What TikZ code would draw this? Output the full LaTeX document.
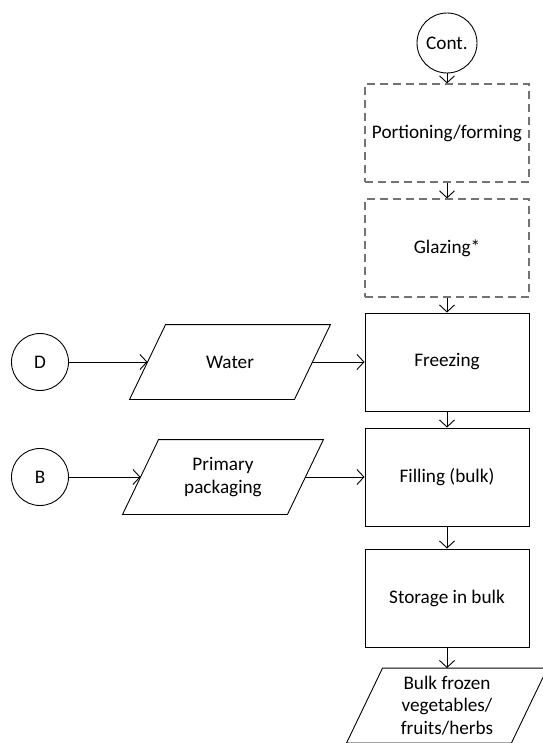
\documentclass[tikz,border=0pt]{standalone}
\usepackage{fontspec}
\setmainfont{Carlito}
\usetikzlibrary{positioning, arrows.meta}

\begin{document}
\begin{tikzpicture}[x=1pt, y=1pt, on grid, line width=0.9pt,
    >={Straight Barb[length=7pt, width=15pt]},
    font=\fontsize{19.2}{22.5}\selectfont,
    every node/.style={inner sep=0pt, align=center},
    conn/.style={draw, circle, minimum size=60pt},
    stepbox/.style={draw, rectangle, minimum width=164pt, minimum height=98pt},
    optbox/.style={stepbox, draw=black!55, dash pattern=on 8pt off 5pt, line width=1.2pt},
    io/.style={rectangle, minimum width=164pt, minimum height=74pt}]
    \useasboundingbox (0,0) rectangle (542,-743);

    % main column
    \node[conn] (cont) at (447,-43) {Cont.};
    \node[optbox] (port) [below=90pt of cont] {Portioning/forming};
    \node[optbox] (glaz) [below=115pt of port] {Glazing*};
    \node[stepbox] (freez) [below=114pt of glaz] {Freezing};
    \node[stepbox] (fill) [below=115pt of freez] {Filling (bulk)};
    \node[stepbox] (store) [below=121pt of fill] {Storage in bulk};
    \node[io] (bulk) [below=107.5pt of store] {Bulk frozen\\vegetables/\\fruits/herbs};

    % inputs
    \node[io] (water) [left=217pt of freez] {Water};
    \node[conn, minimum size=57pt] (d) [left=190pt of water] {D};
    \node[io] (pack) [left=224pt of fill] {Primary\\packaging};
    \node[conn, minimum size=57pt] (b) [left=183pt of pack] {B};

    % slanted outlines of the data nodes
    \foreach \n in {water, pack, bulk}
        \draw ([xshift=18pt]\n.north west) -- ([xshift=18pt]\n.north east)
            -- ([xshift=-18pt]\n.south east) -- ([xshift=-18pt]\n.south west) -- cycle;

    \path[->]
    (cont) edge (port)
    (port) edge (glaz)
    (glaz) edge (freez)
    (freez) edge (fill)
    (fill) edge (store)
    (store) edge (bulk);

    \path[->]
    (d) edge (water)
    (water) edge (freez)
    (b) edge (pack)
    (pack) edge (fill);
\end{tikzpicture}
\end{document}
